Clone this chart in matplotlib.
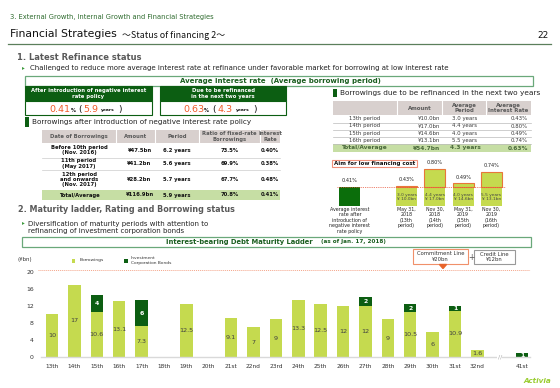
import matplotlib.pyplot as plt
from matplotlib.patches import Rectangle, Polygon

plt.rcParams['font.family'] = ['DejaVu Sans']

# maturity ladder (¥bn)
periods = ["13th", "14th", "15th", "16th", "17th", "18th", "19th", "20th", "21st", "22nd", "23rd",
           "24th", "25th", "26th", "27th", "28th", "29th", "30th", "31st", "32nd", "41st"]
borrowings = [10, 17, 10.6, 13.1, 7.3, 0, 12.5, 0, 9.1, 7, 9,
              13.3, 12.5, 12, 12, 9, 10.5, 6, 10.9, 1.6, 0]
bonds = [0, 0, 4, 0, 6, 0, 0, 0, 0, 0, 0,
         0, 0, 0, 2, 0, 2, 0, 1, 0, 1]
yticks = [0, 4, 8, 12, 16, 20]
commitment_line = 20

# borrowings after negative interest rate policy
left_cols = ["Date of Borrowings", "Amount", "Period", "Ratio of fixed-rate\nBorrowings", "Interest\nRate"]
left_dates = ["Before 10th period\n(Nov. 2016)", "11th period\n(May 2017)",
              "12th period\nand onwards\n(Nov. 2017)", "Total/Average"]
left_amounts = ["¥47.5bn", "¥41.2bn", "¥28.2bn", "¥116.9bn"]
left_periods = ["6.2 years", "5.6 years", "5.7 years", "5.9 years"]
left_fixed = ["73.5%", "69.9%", "67.7%", "70.8%"]
left_rates = ["0.40%", "0.38%", "0.48%", "0.41%"]

# borrowings due to be refinanced in the next two years
right_cols = ["", "Amount", "Average\nPeriod", "Average\nInterest Rate"]
right_periods = ["13th period", "14th period", "15th period", "16th period", "Total/Average"]
right_amounts = ["¥10.0bn", "¥17.0bn", "¥14.6bn", "¥13.1bn", "¥54.7bn"]
right_avg_periods = ["3.0 years", "4.4 years", "4.0 years", "5.5 years", "4.3 years"]
right_rates = ["0.43%", "0.80%", "0.49%", "0.74%", "0.63%"]

# aim for low financing cost
cost_labels = ["Average interest\nrate after\nintroduction of\nnegative interest\nrate policy",
               "May 31,\n2018\n(13th\nperiod)", "Nov 30,\n2018\n(14th\nperiod)",
               "May 31,\n2019\n(15th\nperiod)", "Nov 30,\n2019\n(16th\nperiod)"]
cost_rates = [0.41, 0.43, 0.80, 0.49, 0.74]
cost_inner = ["", "3.0 years\n¥ 10.0bn", "4.4 years\n¥ 17.0bn", "4.0 years\n¥ 14.6bn", "5.5 years\n¥ 13.1bn"]

LG = '#c5da4f'
DG = '#0c5e12'
GREEN_TXT = '#1b5e20'
BORDER = '#6aa87a'
ORANGE = '#f05a28'
HEAD = '#d8d0ce'
TOTAL = '#c6dea4'
GRAYT = '#595959'
DARK = '#222222'

W, H = 560, 388
fig = plt.figure(figsize=(5.6, 3.88), dpi=100)
bg = fig.add_axes([0, 0, 1, 1])
bg.set_xlim(0, W)
bg.set_ylim(H, 0)
bg.axis('off')


def txt(x, y, s, size=4.4, color=DARK, ha='left', va='center', weight='normal', **kw):
    bg.text(x, y, s, fontsize=size, color=color, ha=ha, va=va, fontweight=weight,
            linespacing=1.05, **kw)


def box(x0, y0, x1, y1, fc='none', ec='none', lw=0.8):
    bg.add_patch(Rectangle((x0, y0), x1 - x0, y1 - y0, facecolor=fc, edgecolor=ec, linewidth=lw))


def fa(x0, y0, x1, y1):
    return [x0 / W, 1 - y1 / H, (x1 - x0) / W, (y1 - y0) / H]


# header
txt(10, 17, "3. External Growth, Internal Growth and Financial Strategies", size=4.9, color='#2e6b2e')
txt(10, 34, "Financial Strategies", size=7.8, color='#111111')
txt(122, 35, "～Status of financing 2～", size=6.4, color='#111111',
    family=['Noto Sans CJK JP', 'DejaVu Sans'])
txt(549, 35, "22", size=6.5, color='#111111', ha='right')
bg.plot([8, 551], [44, 44], color='#5b7f5b', lw=0.9)

# section 1
txt(17, 57, "1. Latest Refinance status", size=6.0, color=GRAYT, weight='bold')
txt(22, 67.5, "▸", size=4, color='#3c9a3c')
txt(30, 68, "Challenged to reduce more average interest rate at refinance under favorable market for borrowing at low interest rate",
    size=5.0, color=DARK)
box(25, 76, 533, 86, ec=BORDER, lw=0.9)
txt(280, 81, "Average interest rate  (Average borrowing period)", size=5.05, color=GREEN_TXT,
    weight='bold', ha='center')

# two summary boxes
for x0, x1, head in [(25, 152, "After introduction of negative interest\nrate policy"),
                     (160, 286, "Due to be refinanced\nin the next two years")]:
    box(x0, 86, x1, 101, fc=DG, ec=DG, lw=0.8)
    box(x0, 101, x1, 115, fc='white', ec=DG, lw=0.8)
    txt((x0 + x1) / 2, 93.5, head, size=3.8, color='white', weight='bold', ha='center')

for xs, vals in [((49, 71, 78, 83, 101, 118), ("0.41", "5.9")),
                 ((183, 204, 212, 218, 236, 253), ("0.63", "4.3"))]:
    txt(xs[0], 109.5, vals[0], size=6.8, color=ORANGE)
    txt(xs[1], 110.5, "%", size=3.6, color='#111111', weight='bold')
    txt(xs[2], 109.5, "(", size=6.5, color='#111111')
    txt(xs[3], 109.5, vals[1], size=6.8, color=ORANGE)
    txt(xs[4], 110.5, "years", size=3.2, color='#111111', weight='bold')
    txt(xs[5], 109.5, ")", size=6.5, color='#111111')

# left table
box(25, 117, 28.5, 127, fc=DG)
txt(32, 122, "Borrowings after introduction of negative interest rate policy", size=5.2)
lx = [42, 116, 155, 199, 260, 280]
box(lx[0], 130, lx[-1], 143, fc=HEAD)
for x in lx[1:-1]:
    bg.plot([x, x], [130, 143], color='white', lw=0.8)
for i, c in enumerate(left_cols):
    txt((lx[i] + lx[i + 1]) / 2, 136.5, c, size=3.8, color=GRAYT, weight='bold', ha='center')
row_y = [143, 157.5, 169.5, 190, 200]
box(lx[0], row_y[3], lx[-1], row_y[4], fc=TOTAL)
for y in row_y[1:3]:
    bg.plot([lx[0], lx[-1]], [y, y], color='#cccccc', lw=0.5)
for r in range(4):
    yc = (row_y[r] + row_y[r + 1]) / 2
    cells = [left_dates[r], left_amounts[r], left_periods[r], left_fixed[r], left_rates[r]]
    for i, c in enumerate(cells):
        txt((lx[i] + lx[i + 1]) / 2 + (4 if i == 1 else 0), yc, c, size=3.8, color='#111111',
            weight='bold', ha='center')

# right table
box(333, 89, 336.5, 97, fc=DG)
txt(340, 93, "Borrowings due to be refinanced in the next two years", size=5.3)
rx = [333, 397, 442, 486, 531]
box(rx[0], 101, rx[-1], 115, fc=HEAD)
for x in rx[1:-1]:
    bg.plot([x, x], [101, 115], color='white', lw=0.8)
for i, c in enumerate(right_cols):
    txt((rx[i] + rx[i + 1]) / 2, 108, c, size=3.9, color=GRAYT, weight='bold', ha='center')
ry = [115, 122.5, 129.5, 137, 144, 152]
box(rx[0], ry[4], rx[-1], ry[5], fc=TOTAL)
for y in ry[1:5]:
    bg.plot([rx[0], rx[-1]], [y, y], color='#bbbbbb', lw=0.5)
for r in range(5):
    yc = (ry[r] + ry[r + 1]) / 2
    col = '#3a3a3a' if r < 4 else '#4a6a3a'
    fw = 'normal' if r < 4 else 'bold'
    sz = 3.9 if r < 4 else 4.2
    txt(365, yc, right_periods[r], size=sz, color=col, ha='center', weight=fw)
    txt(440, yc, right_amounts[r], size=sz, color=col, ha='right', weight=fw)
    txt(465, yc, right_avg_periods[r], size=sz, color=col, ha='center', weight=fw)
    txt(528, yc, right_rates[r], size=sz, color=col, ha='right', weight=fw)

# aim for low financing cost
box(332, 159.5, 417, 167, fc='white', ec='#f0907a', lw=0.8)
txt(374.5, 163.3, "Aim for low financing cost", size=4.0, color='#111111', weight='bold', ha='center')

cx = fig.add_axes(fa(335.7, 164.3, 505.6, 206))
cost_pos = [0, 2, 3, 4, 5]
base = [min(r, cost_rates[0]) for r in cost_rates]
extra = [r - b for r, b in zip(cost_rates, base)]
cx.bar(cost_pos[:1], base[:1], width=0.74, color='#0b6e0b')
cx.bar(cost_pos[1:], base[1:], width=0.74, color=LG)
cx.bar(cost_pos[1:], extra[1:], bottom=base[1:], width=0.74, color=LG, edgecolor='#e8773a', linewidth=0.8)
cx.axhline(cost_rates[0], xmin=0.01, xmax=1, color='#e8553a', ls=(0, (1, 1.2)), lw=0.6)
for p, r, s, lab in zip(cost_pos, cost_rates, cost_inner, cost_labels):
    cx.text(p, r + 0.08, f"{r:.2f}%", fontsize=3.6, ha='center', va='bottom', color='#222222')
    if s:
        cx.text(p, cost_rates[0] / 2, s, fontsize=3.1, ha='center', va='center', color='#444444',
                linespacing=1.0)
    cx.text(p, -0.02, lab, fontsize=3.4, ha='center', va='top', color='#222222',
            linespacing=1.1, clip_on=False)
cx.set_xlim(-0.5, 5.5)
cx.set_ylim(0, 0.9)
cx.axis('off')

# section 2
txt(18, 210, "2. Maturity ladder, Rating and Borrowing status", size=5.8, color=GRAYT, weight='bold')
txt(22, 222.5, "▸", size=4, color='#3c9a3c')
txt(28, 227.5, "Diversification of maturity periods with attention to\nrefinancing of investment corporation bonds",
    size=5.0)
box(22, 237, 531, 247, ec=BORDER, lw=0.9)
txt(166, 242, "Interest-bearing Debt Maturity Ladder", size=4.85, color=GREEN_TXT, weight='bold')
txt(321, 242, "(as of Jan. 17, 2018)", size=4.1, color=GREEN_TXT, weight='bold')

# commitment / credit line
box(413, 249, 468, 264, fc='white', ec='#f0906a', lw=0.8)
txt(440.5, 256.5, "Commitment Line\n¥20bn", size=3.8, color='#333333', ha='center')
txt(471, 257.5, "+", size=5.5, color='#555555', ha='center')
box(474, 250, 515, 264, fc='white', ec='#999999', lw=0.8)
txt(494.5, 257, "Credit Line\n¥12bn", size=3.8, color='#333333', ha='center')
bg.add_patch(Polygon([(439.5, 264.5), (446.5, 264.5), (443, 268.5)], closed=True, color='#e8642a'))

# legend
txt(18, 260, "(¥bn)", size=3.9, color='#333333')
box(71.5, 259, 75, 262.5, fc=LG)
txt(80, 260.5, "Borrowings", size=3.2, color='#333333')
box(124, 259, 127.5, 262.5, fc=DG)
txt(131, 260.5, "Investment\nCorporation Bonds", size=3.2, color='#333333')

# ladder chart
ax = fig.add_axes(fa(40.8, 267.4, 530, 357.3))
pos = list(range(20)) + [21]
ax.bar(pos, borrowings, width=0.56, color=LG)
ax.bar(pos, bonds, bottom=borrowings, width=0.56, color=DG)
for p, b, d in zip(pos, borrowings, bonds):
    if b > 0:
        ax.text(p, b / 2, f"{b:g}", fontsize=4.6, ha='center', va='center', color='#404040')
    if d > 0:
        ax.text(p, b + d / 2, f"{d:g}", fontsize=4.4, ha='center', va='center', color='white',
                fontweight='bold')
ax.axhline(commitment_line + 0.3, color='#f4a58a', ls=(0, (1, 1)), lw=0.7, xmin=-0.006, clip_on=False)
ax.text(20, 0, "//", fontsize=4.5, ha='center', va='center', color='#aaaaaa',
        bbox=dict(facecolor='white', edgecolor='none', pad=0.3))
ax.set_xlim(-0.5, 21.35)
ax.set_ylim(0, 21)
ax.set_xticks(pos)
ax.set_xticklabels(periods, fontsize=4.2, color='#333333')
ax.set_yticks(yticks)
ax.set_yticklabels([str(v) for v in yticks], fontsize=4.4, color='#333333')
ax.tick_params(length=0)
ax.tick_params(axis='x', pad=4.5)
ax.tick_params(axis='y', pad=5)
for s in ['top', 'right', 'left']:
    ax.spines[s].set_visible(False)
ax.spines['bottom'].set_color('#d9d9d9')
ax.spines['bottom'].set_linewidth(1.0)
ax.set_facecolor('none')

# logo
txt(537, 381, "Activia", size=5.2, color='#9acd32', ha='center', style='italic', weight='bold')

fig.savefig("out.png", dpi=100)
